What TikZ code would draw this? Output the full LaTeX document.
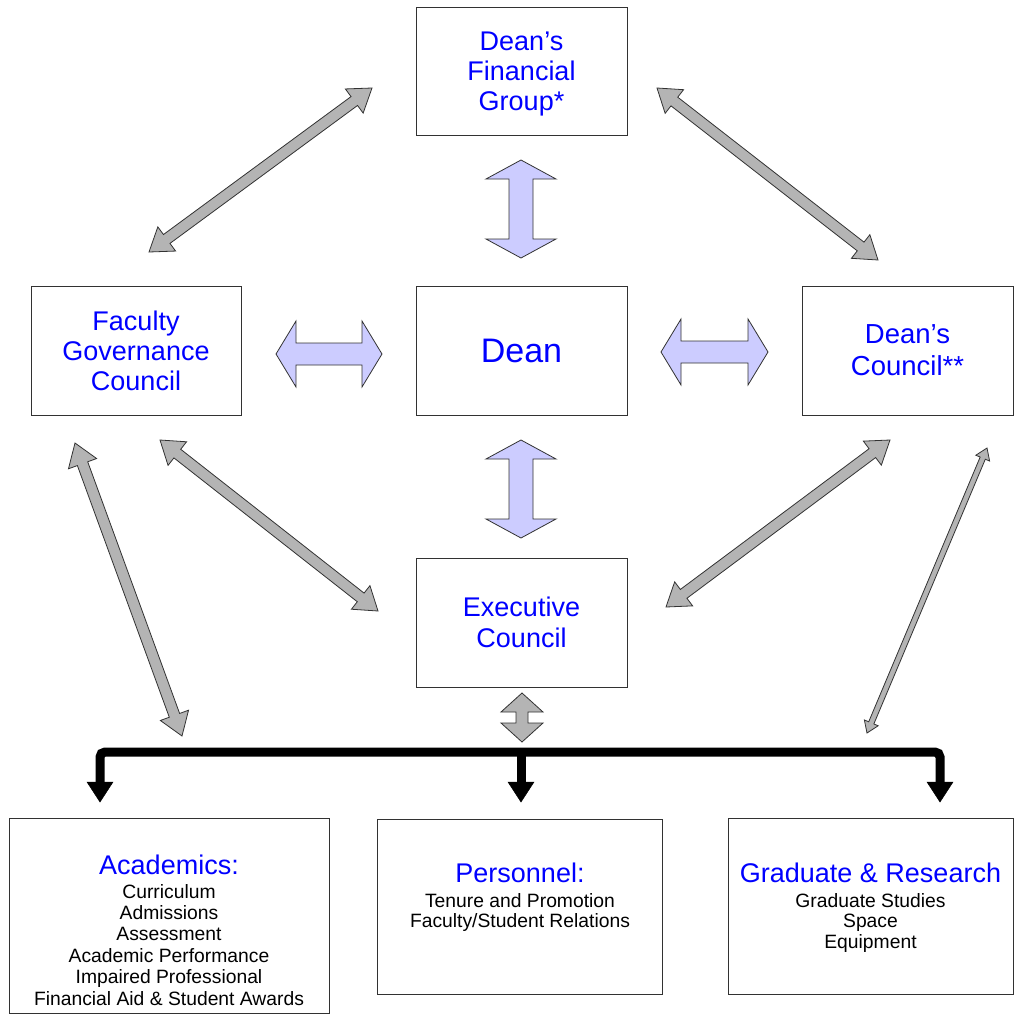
\documentclass[tikz,border=0pt]{standalone}
\usepackage{fontspec}
\setmainfont{Liberation Sans}
\usetikzlibrary{calc}
\definecolor{tblue}{RGB}{0,0,255}
\definecolor{lav}{RGB}{204,204,255}
\definecolor{gfill}{RGB}{180,180,180}
\definecolor{edge}{RGB}{50,50,50}
\tikzset{
  box/.style={draw=edge, line width=1pt, fill=white, inner sep=0pt},
  ttl/.style={text=tblue, align=center, anchor=base, inner sep=0pt, font=\fontsize{27}{30}\selectfont},
  body/.style={text=black, align=center, anchor=base, inner sep=0pt},
  lavarrow/.style={draw=edge, fill=lav, line width=0.8pt, line join=miter},
  grayarrow/.style={draw=edge, fill=gfill, line width=0.8pt, line join=miter},
  bus/.style={line width=9pt, black, rounded corners=5pt},
  bushead/.style={fill=black, draw=black, line width=0.5pt},
}
% #1 style, #2 start, #3 end, #4 head length, #5 head half-width, #6 shaft half-width
\newcommand{\blockarrow}[6]{%
  \path ($(#2)!#4!(#3)$) coordinate (pa) ($(#3)!#4!(#2)$) coordinate (pb);
  \draw[#1] (#2) -- ($(pa)!#5!90:(#3)$) -- ($(pa)!#6!90:(#3)$) -- ($(pb)!#6!-90:(#2)$)
    -- ($(pb)!#5!-90:(#2)$) -- (#3) -- ($(pb)!#5!90:(#2)$) -- ($(pb)!#6!90:(#2)$)
    -- ($(pa)!#6!-90:(#3)$) -- ($(pa)!#5!-90:(#3)$) -- cycle;}
\begin{document}
\begin{tikzpicture}[x=1pt,y=-1pt]
\useasboundingbox (0,0) rectangle (1018,1015);
% boxes
\node[box, minimum width=211pt, minimum height=128pt] (dfg)  at (521.5,71) {};
\node[box, minimum width=210pt, minimum height=129pt] (fgc)  at (136,350.5) {};
\node[box, minimum width=211pt, minimum height=129pt] (dean) at (521.5,350.5) {};
\node[box, minimum width=211pt, minimum height=129pt] (dc)   at (907.5,350.5) {};
\node[box, minimum width=211pt, minimum height=129pt] (exec) at (521.5,622.5) {};
\node[box, minimum width=320pt, minimum height=195pt] (acad) at (169,915.5) {};
\node[box, minimum width=285pt, minimum height=175pt] (pers) at (520,906.5) {};
\node[box, minimum width=285pt, minimum height=176pt] (grad) at (870.5,906) {};
% texts (base anchor = baseline of last line)
\node[ttl] (dfgt) at (521.5,110) {Dean’s\\Financial\\Group*};
\node[ttl] (fgct) at (136,390) {Faculty\\Governance\\Council};
\node[ttl, font=\fontsize{34}{40}\selectfont] (deant) at (521.5,362) {Dean};
\node[ttl, font=\fontsize{27.5}{32}\selectfont] (dct) at (907.5,375) {Dean’s\\Council**};
\node[ttl, font=\fontsize{27}{31}\selectfont] (exect) at (521.5,647) {Executive\\Council};
\node[ttl] (acadt) at (169,874) {Academics:};
\node[body, font=\fontsize{19.3}{21.4}\selectfont] (acadb) at (169,1005) {Curriculum\\Admissions\\Assessment\\Academic Performance\\Impaired Professional\\Financial Aid \& Student Awards};
\node[ttl] (perst) at (520,882) {Personnel:};
\node[body, font=\fontsize{19.3}{20.5}\selectfont] (persb) at (520,927.5) {Tenure and Promotion\\Faculty/Student Relations};
\node[ttl] (gradt) at (870.5,882) {Graduate \& Research};
\node[body, font=\fontsize{19.3}{20.7}\selectfont] (gradb) at (870.5,948.4) {Graduate Studies\\Space\\Equipment};
% lavender arrows
\coordinate (v1a) at (521,160); \coordinate (v1b) at (521,258);
\coordinate (v2a) at (521,440); \coordinate (v2b) at (521,538);
\coordinate (h1a) at (276,354); \coordinate (h1b) at (382,354);
\coordinate (h2a) at (661,352); \coordinate (h2b) at (768,352);
\blockarrow{lavarrow}{v1a}{v1b}{19pt}{35pt}{12pt}
\blockarrow{lavarrow}{v2a}{v2b}{19pt}{35pt}{12pt}
\blockarrow{lavarrow}{h1a}{h1b}{20pt}{33pt}{11pt}
\blockarrow{lavarrow}{h2a}{h2b}{20pt}{33pt}{11pt}
% gray arrows
\coordinate (g1a) at (149,252); \coordinate (g1b) at (372,88);
\coordinate (g2a) at (657,88);  \coordinate (g2b) at (878,260);
\coordinate (g3a) at (160,440); \coordinate (g3b) at (378,611);
\coordinate (g4a) at (890,440); \coordinate (g4b) at (666,607);
\coordinate (g5a) at (75,443);  \coordinate (g5b) at (182,736);
\coordinate (g6a) at (987,448); \coordinate (g6b) at (867,733);
\coordinate (g7a) at (522,693); \coordinate (g7b) at (522,742);
\blockarrow{grayarrow}{g1a}{g1b}{22pt}{15pt}{5.5pt}
\blockarrow{grayarrow}{g2a}{g2b}{22pt}{15pt}{5.5pt}
\blockarrow{grayarrow}{g3a}{g3b}{22pt}{15pt}{5.5pt}
\blockarrow{grayarrow}{g4a}{g4b}{22pt}{15pt}{5.5pt}
\blockarrow{grayarrow}{g5a}{g5b}{22pt}{15pt}{5.5pt}
\blockarrow{grayarrow}{g6a}{g6b}{11pt}{7.5pt}{2.8pt}
\blockarrow{grayarrow}{g7a}{g7b}{19pt}{21pt}{6pt}
% black bus
\coordinate (sl) at (100,783); \coordinate (sm) at (521,783); \coordinate (sr) at (940,783);
\draw[bus] (sl) -- (100,752) -- (940,752) -- (sr);
\draw[line width=9pt] (521,752) -- (sm);
\foreach \c in {sl,sm,sr}{
  \fill[bushead] ($(\c)+(-13,-1)$) -- ($(\c)+(13,-1)$) -- ($(\c)+(0,19)$) -- cycle;
}
\end{tikzpicture}
\end{document}
